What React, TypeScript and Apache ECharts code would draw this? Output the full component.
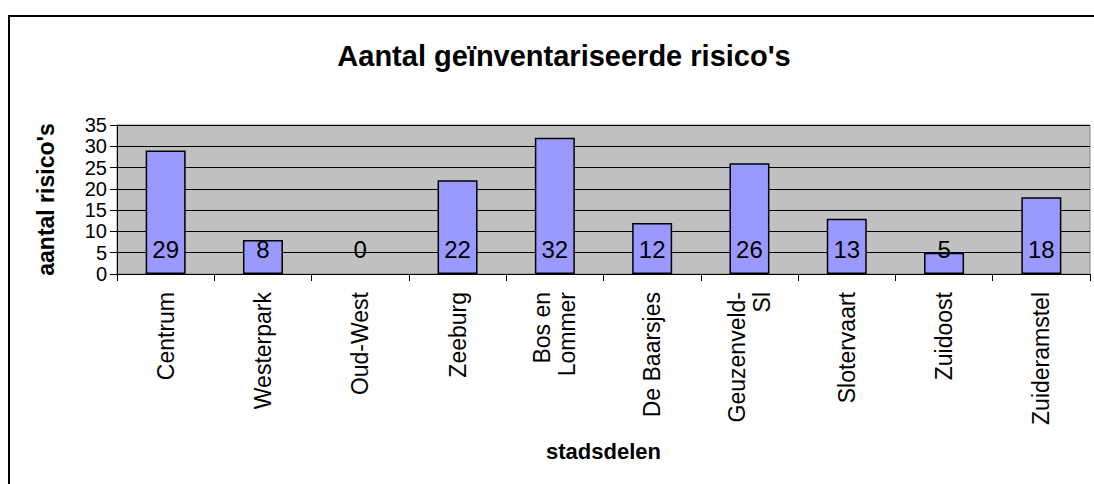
import React, { useEffect, useRef } from "react";
import * as echarts from "echarts";

const categories = [
  "Centrum",
  "Westerpark",
  "Oud-West",
  "Zeeburg",
  "Bos en\nLommer",
  "De Baarsjes",
  "Geuzenveld-\nSl",
  "Slotervaart",
  "Zuidoost",
  "Zuideramstel",
];
const values = [29, 8, 0, 22, 32, 12, 26, 13, 5, 18];
const yMin = 0;
const yMax = 35;
const yStep = 5;

const FONT = "'Liberation Sans', Arial, sans-serif";

export default function App() {
  const ref = useRef<HTMLDivElement>(null);
  useEffect(() => {
    if (!ref.current) return;
    const chart = echarts.init(ref.current, undefined, { renderer: "svg" });
    chart.setOption({
      animation: false,
      backgroundColor: "#ffffff",
      textStyle: { fontFamily: FONT },
      title: {
        text: "Aantal geïnventariseerde risico's",
        left: 559,
        top: 36,
        textAlign: "center",
        textStyle: { fontFamily: FONT, fontSize: 29, fontWeight: "bold", color: "#000" },
      },
      graphic: [
        {
          type: "rect",
          shape: { x: 9, y: 16, width: 1100, height: 480 },
          style: { fill: "none", stroke: "#000", lineWidth: 2 },
          silent: true,
          z: 100,
        },
      ],
      grid: {
        left: 117,
        right: 4,
        top: 125,
        bottom: 210,
        show: true,
        backgroundColor: "#C0C0C0",
        borderColor: "#808080",
        borderWidth: 1,
      },
      xAxis: {
        type: "category",
        data: categories,
        name: "stadsdelen",
        nameLocation: "middle",
        nameGap: 166,
        nameTextStyle: { fontFamily: FONT, fontSize: 22, fontWeight: "bold", color: "#000" },
        axisLine: { lineStyle: { color: "#000", width: 1 } },
        axisTick: { show: true, length: 7, lineStyle: { color: "#000" } },
        axisLabel: {
          rotate: 90,
          interval: 0,
          margin: 18,
          fontFamily: FONT,
          fontSize: 23,
          color: "#000",
          lineHeight: 25,
        },
      },
      yAxis: {
        type: "value",
        min: yMin,
        max: yMax,
        interval: yStep,
        name: "aantal risico's",
        nameLocation: "middle",
        nameGap: 60,
        nameTextStyle: { fontFamily: FONT, fontSize: 23, fontWeight: "bold", color: "#000" },
        axisLine: { show: true, lineStyle: { color: "#000", width: 1 } },
        axisTick: { show: true, length: 7, lineStyle: { color: "#000" } },
        axisLabel: {
          margin: 10,
          fontFamily: FONT,
          fontSize: 20,
          lineHeight: 20,
          color: "#000",
          showMinLabel: true,
          showMaxLabel: true,
          hideOverlap: false,
        },
        splitLine: { show: true, lineStyle: { color: "#000", width: 1 } },
      },
      series: [
        {
          type: "bar",
          data: values.map((v) => ({
            value: v,
            itemStyle: { borderWidth: v === 0 ? 0 : 1.5 },
          })),
          barWidth: 40,
          itemStyle: { color: "#9999FF", borderColor: "#000", borderWidth: 1.5 },
          label: {
            show: true,
            position: "insideBottom",
            distance: 13,
            fontFamily: FONT,
            fontSize: 24,
            color: "#000",
          },
        },
      ],
    });
    return () => chart.dispose();
  }, []);
  return (
    <div
      ref={ref}
      style={{ position: "absolute", left: 0, top: 0, width: 1094, height: 484 }}
    />
  );
}
